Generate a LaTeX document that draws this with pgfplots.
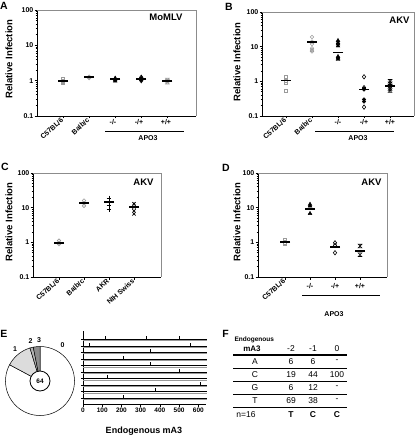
\documentclass[border=0pt]{standalone}
\usepackage{fontspec}
\setmainfont{Liberation Sans}
\usepackage{pgfplots}
\pgfplotsset{compat=1.18}
\definecolor{mgray}{HTML}{9A9A9A}
\definecolor{p1}{HTML}{DCDCDC}
\definecolor{p2}{HTML}{B4B4B4}
\definecolor{p3}{HTML}{8C8C8C}

\pgfdeclareplotmark{hourglass}{%
  \pgfpathmoveto{\pgfqpoint{-\pgfplotmarksize}{\pgfplotmarksize}}%
  \pgfpathlineto{\pgfqpoint{\pgfplotmarksize}{\pgfplotmarksize}}%
  \pgfpathlineto{\pgfqpoint{-\pgfplotmarksize}{-\pgfplotmarksize}}%
  \pgfpathlineto{\pgfqpoint{\pgfplotmarksize}{-\pgfplotmarksize}}%
  \pgfpathclose
  \pgfusepathqstroke
}

\pgfplotsset{
  gsq/.style={only marks, mark=square, mark size=1.7pt, mgray, mark options={line width=0.6pt}},
  gci/.style={only marks, mark=o, mark size=1.8pt, mgray, mark options={line width=0.6pt}},
  btri/.style={only marks, mark=triangle*, mark size=2.2pt, black},
  bci/.style={only marks, mark=*, mark size=1.8pt, black},
  bdia/.style={only marks, mark=diamond, mark size=2.2pt, black, mark options={line width=0.6pt}},
  hgs/.style={only marks, mark=hourglass, mark size=1.8pt, mark options={line width=0.6pt}},
  meanbar/.style={only marks, mark=-, mark size=5pt, black, mark options={line width=1.8pt}},
}
\newcommand{\frameTR}{\draw[black!45, line width=0.9pt] (rel axis cs:0,1) -- (rel axis cs:1,1) -- (rel axis cs:1,0);}

\begin{document}
\begin{tikzpicture}
\useasboundingbox (0pt,0pt) rectangle (416pt,-438pt);

% ---------------- Panel A
\begin{axis}[scale only axis, ymode=log, ymin=0.1, ymax=100,
    axis x line*=bottom, axis y line*=left, axis line style={-, line width=0.9pt},
    ytick={0.1,1,10,100}, yticklabels={0.1,1,10,100},
    minor ytick={0.2,0.3,0.4,0.5,0.6,0.7,0.8,0.9,2,3,4,5,6,7,8,9,20,30,40,50,60,70,80,90},
    tick align=outside, major tick length=2.5pt, minor tick length=1.5pt,
    tick style={black, line width=0.6pt},
    yticklabel style={font=\bfseries\fontsize{7}{8}\selectfont, inner sep=1pt},
    xticklabel style={font=\bfseries\fontsize{7}{8}\selectfont, rotate=42, anchor=east, inner sep=1pt},
    clip=false,
  at={(37pt,-116pt)}, anchor=south west, width=159pt, height=106pt,
  xmin=-1, xmax=5.1, xtick={0,1,2,3,4}, xticklabels={C57BL/6,Balb/c,,,}]
\frameTR
\addplot[gsq] coordinates {(0,0.86)(0,0.92)(0,1.0)(0,1.08)};
\addplot[gci] coordinates {(1,1.18)(1,1.24)(1,1.3)};
\addplot[btri] coordinates {(2,0.97)(2,1.05)(2,1.12)(2,1.18)};
\addplot[bci] coordinates {(3,1.02)(3,1.1)(3,1.2)};
\addplot[bdia] coordinates {(3,1.25)(3,1.0)};
\addplot[hgs, mgray] coordinates {(4,0.9)(4,0.96)(4,1.04)};
\addplot[meanbar] coordinates {(0,1.0)(1,1.25)(2,1.1)(3,1.12)(4,1.0)};
\end{axis}

% ---------------- Panel B
\begin{axis}[scale only axis, ymode=log, ymin=0.1, ymax=100,
    axis x line*=bottom, axis y line*=left, axis line style={-, line width=0.9pt},
    ytick={0.1,1,10,100}, yticklabels={0.1,1,10,100},
    minor ytick={0.2,0.3,0.4,0.5,0.6,0.7,0.8,0.9,2,3,4,5,6,7,8,9,20,30,40,50,60,70,80,90},
    tick align=outside, major tick length=2.5pt, minor tick length=1.5pt,
    tick style={black, line width=0.6pt},
    yticklabel style={font=\bfseries\fontsize{7}{8}\selectfont, inner sep=1pt},
    xticklabel style={font=\bfseries\fontsize{7}{8}\selectfont, rotate=42, anchor=east, inner sep=1pt},
    clip=false,
  at={(262pt,-116pt)}, anchor=south west, width=152pt, height=104pt,
  xmin=-0.92, xmax=4.92, xtick={0,1,2,3,4}, xticklabels={C57BL/6,Balb/c,,,}]
\frameTR
\addplot[gsq] coordinates {(0,1.35)(0,1.05)(0,0.95)(0,0.53)};
\addplot[gci] coordinates {(1,19)(1,14)(1,12)(1,9)(1,8)(1,7.3)};
\addplot[btri] coordinates {(2,15)(2,13)(2,12)(2,10.5)(2,5.2)(2,4.7)(2,4.3)};
\addplot[bci] coordinates {(3,0.62)(3,0.58)(3,0.3)(3,0.26)};
\addplot[bdia] coordinates {(3,1.35)(3,0.66)(3,0.18)};
\addplot[hgs, black] coordinates {(4,1.0)(4,0.85)(4,0.72)(4,0.62)(4,0.54)};
\addplot[meanbar] coordinates {(0,1.05)(1,13.5)(2,6.8)(3,0.58)(4,0.72)};
\end{axis}

% ---------------- Panel C
\begin{axis}[scale only axis, ymode=log, ymin=0.1, ymax=100,
    axis x line*=bottom, axis y line*=left, axis line style={-, line width=0.9pt},
    ytick={0.1,1,10,100}, yticklabels={0.1,1,10,100},
    minor ytick={0.2,0.3,0.4,0.5,0.6,0.7,0.8,0.9,2,3,4,5,6,7,8,9,20,30,40,50,60,70,80,90},
    tick align=outside, major tick length=2.5pt, minor tick length=1.5pt,
    tick style={black, line width=0.6pt},
    yticklabel style={font=\bfseries\fontsize{7}{8}\selectfont, inner sep=1pt},
    xticklabel style={font=\bfseries\fontsize{7}{8}\selectfont, rotate=42, anchor=east, inner sep=1pt},
    clip=false,
  at={(33pt,-277pt)}, anchor=south west, width=128pt, height=104pt,
  xmin=-1.04, xmax=4.08, xtick={0,1,2,3}, xticklabels={C57BL/6,Balb/c,AKR,NIH Swiss}]
\frameTR
\addplot[gci] coordinates {(0,1.12)(0,0.97)(0,0.88)};
\addplot[gci] coordinates {(1,16)(1,13.3)(1,11.3)};
\addplot[only marks, mark=+, mark size=2.4pt, black, mark options={line width=0.8pt}] coordinates {(2,19)(2,15)(2,12)(2,8.8)};
\addplot[only marks, mark=x, mark size=2.2pt, black, mark options={line width=0.8pt}] coordinates {(3,13)(3,10.5)(3,8.1)(3,6.6)};
\addplot[meanbar] coordinates {(0,0.95)(1,13.5)(2,14.6)(3,10.6)};
\end{axis}

% ---------------- Panel D
\begin{axis}[scale only axis, ymode=log, ymin=0.1, ymax=100,
    axis x line*=bottom, axis y line*=left, axis line style={-, line width=0.9pt},
    ytick={0.1,1,10,100}, yticklabels={0.1,1,10,100},
    minor ytick={0.2,0.3,0.4,0.5,0.6,0.7,0.8,0.9,2,3,4,5,6,7,8,9,20,30,40,50,60,70,80,90},
    tick align=outside, major tick length=2.5pt, minor tick length=1.5pt,
    tick style={black, line width=0.6pt},
    yticklabel style={font=\bfseries\fontsize{7}{8}\selectfont, inner sep=1pt},
    xticklabel style={font=\bfseries\fontsize{7}{8}\selectfont, rotate=42, anchor=east, inner sep=1pt},
    clip=false,
  at={(258pt,-277pt)}, anchor=south west, width=129pt, height=104pt,
  xmin=-1.08, xmax=4.08, xtick={0,1,2,3}, xticklabels={C57BL/6,,,}]
\frameTR
\addplot[gsq] coordinates {(0,1.15)(0,1.0)(0,0.93)};
\addplot[btri] coordinates {(1,12.5)(1,11.2)(1,6.8)};
\addplot[bdia] coordinates {(2,0.97)(2,0.82)(2,0.5)};
\addplot[hgs, black] coordinates {(3,0.78)(3,0.44)};
\addplot[meanbar] coordinates {(0,1.05)(1,9.3)(2,0.72)(3,0.55)};
\end{axis}

% ---------------- Panel E (lines)
\begin{axis}[scale only axis, at={(83pt,-404.5pt)}, anchor=south west, width=123pt, height=73.5pt,
  xmin=0, xmax=640, ymin=0, ymax=11.3,
  axis x line*=bottom, axis y line*=left, axis line style={-, line width=0.9pt},
  xtick={0,100,...,600}, ytick={1,...,10}, yticklabels={},
  tick align=outside, major tick length=2pt, tick style={black, line width=0.6pt},
  xticklabel style={font=\bfseries\fontsize{6.5}{7}\selectfont, inner sep=1pt},
  /pgf/number format/assume math mode=true, clip=false]
\addplot[black!40, line width=0.8pt] coordinates {(0,0.78)(643,0.78)};
\addplot[black!40, line width=0.8pt] coordinates {(0,1.78)(643,1.78)};
\addplot[black!40, line width=0.8pt] coordinates {(0,2.78)(643,2.78)};
\addplot[black!40, line width=0.8pt] coordinates {(0,3.78)(643,3.78)};
\addplot[black!40, line width=0.8pt] coordinates {(0,4.78)(643,4.78)};
\addplot[black!40, line width=0.8pt] coordinates {(0,5.78)(643,5.78)};
\addplot[black!40, line width=0.8pt] coordinates {(0,6.78)(643,6.78)};
\addplot[black!40, line width=0.8pt] coordinates {(0,7.78)(643,7.78)};
\addplot[black!40, line width=0.8pt] coordinates {(0,8.78)(643,8.78)};
\addplot[black!40, line width=0.8pt] coordinates {(0,9.78)(643,9.78)};
\addplot[black, line width=0.9pt] coordinates {(0,1)(643,1)};
\addplot[black, line width=0.9pt] coordinates {(0,2)(643,2)};
\addplot[black, line width=0.9pt] coordinates {(0,3)(643,3)};
\addplot[black, line width=0.9pt] coordinates {(0,4)(643,4)};
\addplot[black, line width=0.9pt] coordinates {(0,5)(643,5)};
\addplot[black, line width=0.9pt] coordinates {(0,6)(643,6)};
\addplot[black, line width=0.9pt] coordinates {(0,7)(643,7)};
\addplot[black, line width=0.9pt] coordinates {(0,8)(643,8)};
\addplot[black, line width=0.9pt] coordinates {(0,9)(643,9)};
\addplot[black, line width=0.9pt] coordinates {(0,10)(643,10)};
\addplot[draw=none, mark=none, error bars/.cd, y dir=plus, y explicit, error mark=none,
  error bar style={draw=black, line width=0.7pt}] table[x=x, y=y, y error=e] {
x y e
118 10 0.5
330 10 0.5
500 10 0.5
31 9 0.5
559 9 0.5
352 8 0.5
211 7 0.5
352 6 0.5
500 5 0.5
125 4 0.5
613 3 0.5
378 2 0.5
211 1 0.5
};
\end{axis}
\node[font=\bfseries\fontsize{9}{10}\selectfont] at (144pt,-431pt) {Endogenous mA3};

% ---------------- Pie (counts: 0->53, 1->8, 2->1, 3->2 of 64)
\def\pcx{40pt}\def\pcy{-381pt}\def\pr{34.5pt}
\pgfmathsetmacro{\aA}{90}
\pgfmathsetmacro{\aB}{90+2/64*360}
\pgfmathsetmacro{\aC}{\aB+1/64*360}
\pgfmathsetmacro{\aD}{\aC+8/64*360}
\begin{scope}[line width=0.5pt, draw=black]
\filldraw[fill=white] (\pcx,\pcy) -- ++(\aD:\pr) arc[start angle=\aD, end angle=450, radius=\pr] -- cycle;
\filldraw[fill=p1] (\pcx,\pcy) -- ++(\aC:\pr) arc[start angle=\aC, end angle=\aD, radius=\pr] -- cycle;
\filldraw[fill=p2] (\pcx,\pcy) -- ++(\aB:\pr) arc[start angle=\aB, end angle=\aC, radius=\pr] -- cycle;
\filldraw[fill=p3] (\pcx,\pcy) -- ++(\aA:\pr) arc[start angle=\aA, end angle=\aB, radius=\pr] -- cycle;
\filldraw[fill=white, line width=0.8pt] (\pcx,\pcy) circle[radius=10pt];
\end{scope}
\node[font=\bfseries\fontsize{6.5}{7}\selectfont] at (\pcx,\pcy) {64};
\begin{scope}[font=\bfseries\fontsize{7}{8}\selectfont]
\node at (62.5pt,-345pt) {0};
\node at (15pt,-349pt) {1};
\node at (30.5pt,-341pt) {2};
\node at (39pt,-340pt) {3};
\end{scope}

% ---------------- Axis annotations
\begin{scope}[font=\bfseries\fontsize{9.5}{11}\selectfont]
\node[rotate=90] at (9pt,-59pt) {Relative Infection};
\node[rotate=90] at (237pt,-62pt) {Relative Infection};
\node[rotate=90] at (9pt,-222pt) {Relative Infection};
\node[rotate=90] at (237pt,-222pt) {Relative Infection};
\node[anchor=east] at (186pt,-17pt) {MoMLV};
\node[anchor=east] at (413pt,-20pt) {AKV};
\node[anchor=east] at (157pt,-182pt) {AKV};
\node[anchor=east] at (385pt,-182pt) {AKV};
\end{scope}
\begin{scope}[font=\bfseries\fontsize{10.5}{12}\selectfont]
\node at (4pt,-6pt) {A};
\node at (229pt,-6.5pt) {B};
\node at (5pt,-167pt) {C};
\node at (226pt,-167.5pt) {D};
\node at (4pt,-333.5pt) {E};
\node at (225.5pt,-333.5pt) {F};
\end{scope}
% genotype labels and APO3 brackets
\begin{scope}[font=\bfseries\fontsize{7}{8}\selectfont]
\node at (113pt,-122pt) {-/-}; \node at (139pt,-122pt) {-/+}; \node at (166pt,-122pt) {+/+};
\draw[line width=0.7pt] (105pt,-131pt) -- (184pt,-131pt);
\node at (148pt,-138.5pt) {APO3};
\node at (338pt,-122pt) {-/-}; \node at (364pt,-122pt) {-/+}; \node at (390pt,-122pt) {+/+};
\draw[line width=0.7pt] (315pt,-131pt) -- (394pt,-131pt);
\node at (358pt,-138.5pt) {APO3};
\node at (310pt,-286pt) {-/-}; \node at (335pt,-286pt) {-/+}; \node at (360pt,-286pt) {+/+};
\draw[line width=0.7pt] (302pt,-295pt) -- (380pt,-295pt);
\node at (334pt,-314pt) {APO3};
\end{scope}

% ---------------- Table F
\begin{scope}[font=\fontsize{8.5}{10}\selectfont]
\node[anchor=west, font=\bfseries\fontsize{6.5}{7}\selectfont] at (231pt,-340pt) {Endogenous};
\node[font=\bfseries\fontsize{8}{9}\selectfont] at (252pt,-348.5pt) {mA3};
\node at (291pt,-348.5pt) {-2};
\node at (313pt,-348.5pt) {-1};
\node at (337pt,-348.5pt) {0};
\draw[line width=1.3pt] (233pt,-355pt) -- (347pt,-355pt);
\node at (255pt,-361.5pt) {A}; \node at (291pt,-361.5pt) {6}; \node at (313pt,-361.5pt) {6}; \node at (337pt,-361.5pt) {-};
\draw[line width=0.6pt] (233pt,-368pt) -- (347pt,-368pt);
\node at (255pt,-374.5pt) {C}; \node at (291pt,-374.5pt) {19}; \node at (313pt,-374.5pt) {44}; \node at (337pt,-374.5pt) {100};
\draw[line width=0.6pt] (233pt,-381pt) -- (347pt,-381pt);
\node at (255pt,-387.5pt) {G}; \node at (291pt,-387.5pt) {6}; \node at (313pt,-387.5pt) {12}; \node at (337pt,-387.5pt) {-};
\draw[line width=0.6pt] (233pt,-394pt) -- (347pt,-394pt);
\node at (255pt,-400.5pt) {T}; \node at (291pt,-400.5pt) {69}; \node at (313pt,-400.5pt) {38}; \node at (337pt,-400.5pt) {-};
\draw[line width=1.3pt] (233pt,-407.5pt) -- (347pt,-407.5pt);
\node at (246pt,-414.5pt) {n=16};
\node[font=\bfseries\fontsize{8.5}{10}\selectfont] at (291pt,-414.5pt) {T};
\node[font=\bfseries\fontsize{8.5}{10}\selectfont] at (313pt,-414.5pt) {C};
\node[font=\bfseries\fontsize{8.5}{10}\selectfont] at (337pt,-414.5pt) {C};
\end{scope}
\end{tikzpicture}
\end{document}
